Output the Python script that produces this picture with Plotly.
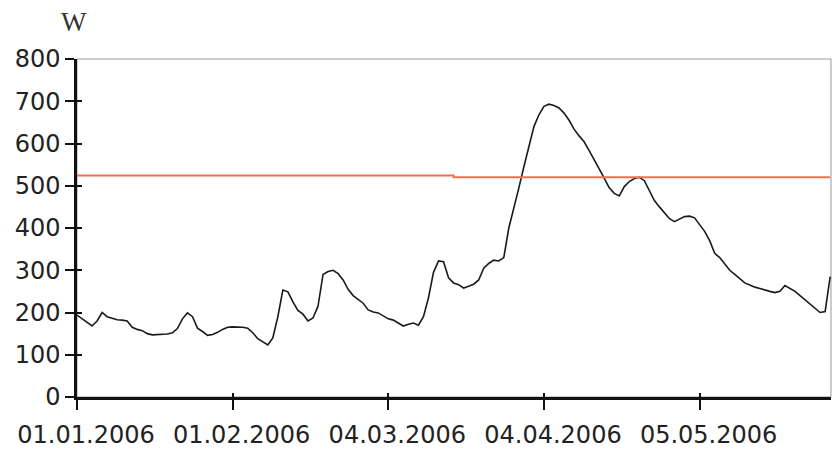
import plotly.graph_objects as go
import pandas as pd

# Daily values (W), starting 01.01.2006
start_date = "2006-01-01"
power_w = [
    194, 185, 175, 168, 180, 200, 190, 187, 183, 182,
    180, 165, 160, 157, 150, 147, 148, 148, 149, 152,
    162, 185, 199, 190, 163, 155, 146, 148, 153, 160,
    165, 166, 166, 165, 163, 152, 138, 130, 123, 140,
    190, 253, 249, 225, 205, 196, 180, 187, 215, 290,
    297, 300, 292, 277, 255, 240, 230, 222, 206, 201,
    199, 193, 185, 182, 175, 168, 172, 175, 170, 190,
    235, 295, 322, 320, 282, 270, 266, 258, 262, 267,
    277, 305, 316, 324, 322, 330, 400, 445, 495, 545,
    590, 640, 668, 688, 693, 690, 684, 672, 655, 634,
    618, 604, 583, 560, 540, 518, 495, 482, 476, 498,
    510, 517, 520, 512, 490, 465, 450, 437, 422, 415,
    422, 427, 428, 424, 408, 392, 370, 340, 330, 315,
    300, 290, 280, 270, 265, 260, 257, 253, 250, 247,
    250, 264, 258, 250, 240, 230, 222, 210, 200, 202,
    285,
]
dates = pd.date_range(start_date, periods=len(power_w), freq="D")

# Reference (mean) line, stepping down mid-March
ref_dates = ["2006-01-01", "2006-03-17", "2006-05-31"]
ref_values = [524, 520, 520]

tick_dates = ["2006-01-01", "2006-02-01", "2006-03-04", "2006-04-04", "2006-05-05"]
tick_labels = ["01.01.2006", "01.02.2006", "04.03.2006", "04.04.2006", "05.05.2006"]
y_ticks = [0, 100, 200, 300, 400, 500, 600, 700, 800]

x_range = ["2006-01-01", "2006-05-31 04:00"]
y_range = [0, 800]

fig = go.Figure()
fig.add_trace(go.Scatter(
    x=dates, y=power_w, mode="lines",
    line=dict(color="#1a1a1a", width=1.6), showlegend=False,
))
fig.add_trace(go.Scatter(
    x=ref_dates, y=ref_values, mode="lines", line_shape="hv",
    line=dict(color="#f07050", width=2), showlegend=False,
    xaxis="x2", yaxis="y2",
))

font = dict(family="DejaVu Sans", size=24, color="#222222")

fig.update_layout(
    width=832, height=451,
    margin=dict(l=77, r=1, t=59, b=54),
    paper_bgcolor="white", plot_bgcolor="white",
    xaxis=dict(
        range=x_range, tickvals=tick_dates, ticktext=tick_labels,
        ticks="outside", ticklen=10, tickwidth=1.5, tickcolor="#111",
        showline=True, linecolor="#111", linewidth=2.5,
        showgrid=False, zeroline=False, tickfont=font,
        ticklabelstandoff=4, ticklabelshift=9, automargin=False,
    ),
    yaxis=dict(
        range=y_range, tickvals=y_ticks,
        ticks="outside", ticklen=9, tickwidth=1.5, tickcolor="#111",
        showline=True, linecolor="#111", linewidth=2.5,
        showgrid=False, zeroline=False, tickfont=font,
        ticklabelstandoff=0, automargin=False,
    ),
    xaxis2=dict(
        range=x_range, tickvals=tick_dates, overlaying="x",
        ticks="inside", ticklen=4, tickwidth=1.5, tickcolor="#111",
        showticklabels=False, showgrid=False, zeroline=False, showline=False,
        automargin=False,
    ),
    yaxis2=dict(
        range=y_range, tickvals=y_ticks, overlaying="y",
        ticks="inside", ticklen=5, tickwidth=1.5, tickcolor="#111",
        showticklabels=False, showgrid=False, zeroline=False, showline=False,
        automargin=False,
    ),
    shapes=[dict(
        type="rect", xref="paper", yref="paper", x0=0, x1=1, y0=0, y1=1,
        line=dict(color="#999999", width=1), layer="below",
    )],
    annotations=[dict(
        text="W", xref="paper", yref="paper", x=-0.004, y=1.0,
        xanchor="center", yanchor="bottom", yshift=20, showarrow=False,
        font=dict(family="Liberation Serif", size=27, color="#333333"),
    )],
)

fig.write_html(
    "out.html",
    config={"displayModeBar": False},
    post_script="document.body.style.margin='0';document.body.style.overflow='hidden';",
)
